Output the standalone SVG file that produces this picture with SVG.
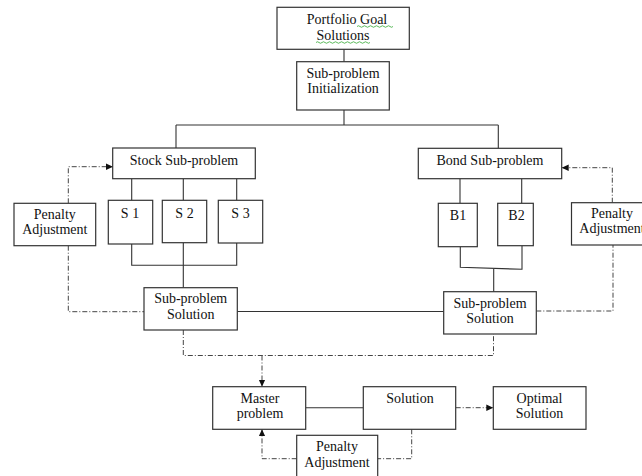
<svg xmlns="http://www.w3.org/2000/svg" width="642" height="476" viewBox="0 0 642 476">
<style>
.box{fill:#fff;stroke:#333;stroke-width:1.2}
.t{font-family:"Liberation Serif","Times New Roman",serif;font-size:14px;fill:#111;text-anchor:middle}
.ln{fill:none;stroke:#333;stroke-width:1.1}
.dd{fill:none;stroke:#444;stroke-width:1;stroke-dasharray:5 2 1 2}
.sq{fill:none;stroke:#3a3;stroke-width:0.8}
</style>
<defs>
<marker id="ah" markerWidth="8" markerHeight="8" refX="7" refY="4" orient="auto" markerUnits="userSpaceOnUse">
<path d="M0,0.8 L7,4 L0,7.2 Z" fill="#111"/>
</marker>
</defs>
<rect width="642" height="476" fill="#fff"/>
<g id="connectors">
<path class="ln" d="M344,49.3V61.7M344,110V125M176,125H498.3M176,125V148M498.3,125V148.3"/>
<path class="ln" d="M131.7,178.7V200.3M183.3,178.7V200.3M236.7,178.7V200.3"/>
<path class="ln" d="M131.7,244V265.3H236.7V243M183.3,242.7V287.7"/>
<path class="ln" d="M460,178.7V203.3M521.7,178.7V203.3"/>
<path class="ln" d="M460.3,246.7V267.3L522,269.3V245.7M493.7,268.3V291.7"/>
<path class="ln" d="M237.3,311.5H443.7M305.7,407.7H363.3"/>
<path class="dd" d="M68.3,245.7V311.7H144"/>
<path class="dd" d="M68.3,203.3V166.7H113" marker-end="url(#ah)"/>
<path class="dd" d="M536.3,311H613V245"/>
<path class="dd" d="M612.3,202.7V167.7H561.7" marker-end="url(#ah)"/>
<path class="dd" d="M183.3,330V355.5H493.5V334"/>
<path class="dd" d="M262,355.5V386.7" marker-end="url(#ah)"/>
<path class="dd" d="M455.7,407.7H493.3" marker-end="url(#ah)"/>
<path class="dd" d="M411.7,429.3V458.7H377.7"/>
<path class="dd" d="M296.7,458.7H262V429.3" marker-end="url(#ah)"/>
</g>
<g id="portfolio">
<rect class="box" x="277" y="7.3" width="132.3" height="42"/>
<text class="t" x="347" y="24">Portfolio Goal</text>
<text class="t" x="343" y="39.5">Solutions</text>
<path class="sq" d="M357,26.5q1.5,-1.5 3,0t3,0t3,0t3,0t3,0t3,0t3,0t3,0t3,0t3,0t3,0t3,0"/>
<path class="sq" d="M316,42.5q1.5,-1.5 3,0t3,0t3,0t3,0t3,0t3,0t3,0t3,0t3,0t3,0t3,0t3,0t3,0t3,0t3,0t3,0t3,0t3,0"/>
</g>
<g id="init">
<rect class="box" x="296.7" y="61.7" width="92.6" height="48.3"/>
<text class="t" x="343" y="78.3">Sub-problem</text>
<text class="t" x="343" y="93.3">Initialization</text>
</g>
<g id="stock">
<rect class="box" x="112.7" y="148" width="142.6" height="30.7"/>
<text class="t" x="184" y="165">Stock Sub-problem</text>
</g>
<g id="s1">
<rect class="box" x="108.3" y="200.3" width="44.4" height="43.7"/>
<text class="t" x="130" y="217.7">S 1</text>
</g>
<g id="s2">
<rect class="box" x="162.3" y="200.3" width="44.4" height="42.4"/>
<text class="t" x="184.5" y="217.7">S 2</text>
</g>
<g id="s3">
<rect class="box" x="218.3" y="200.3" width="44.4" height="42.7"/>
<text class="t" x="240.5" y="217.7">S 3</text>
</g>
<g id="penalty-left">
<rect class="box" x="14" y="203.3" width="81.7" height="42.4"/>
<text class="t" x="54.8" y="219.3">Penalty</text>
<text class="t" x="54.8" y="234.3">Adjustment</text>
</g>
<g id="bond">
<rect class="box" x="418.3" y="148.3" width="143.4" height="30.4"/>
<text class="t" x="490" y="164.5">Bond Sub-problem</text>
</g>
<g id="b1">
<rect class="box" x="438.3" y="203.3" width="39" height="43.4"/>
<text class="t" x="458" y="220">B1</text>
</g>
<g id="b2">
<rect class="box" x="497.7" y="203.3" width="35.6" height="42.4"/>
<text class="t" x="516.5" y="220">B2</text>
</g>
<g id="penalty-right">
<rect class="box" x="571.5" y="202.7" width="82" height="42.3"/>
<text class="t" x="612" y="218.3">Penalty</text>
<text class="t" x="612" y="233.3">Adjustment</text>
</g>
<g id="solution-left">
<rect class="box" x="144" y="287.7" width="93.3" height="42.3"/>
<text class="t" x="190.7" y="303.3">Sub-problem</text>
<text class="t" x="190.7" y="319.3">Solution</text>
</g>
<g id="solution-right">
<rect class="box" x="443.7" y="291.7" width="92.6" height="42.3"/>
<text class="t" x="490" y="307.7">Sub-problem</text>
<text class="t" x="490" y="322.7">Solution</text>
</g>
<g id="master">
<rect class="box" x="212.7" y="386.7" width="93" height="42.6"/>
<text class="t" x="260" y="402.7">Master</text>
<text class="t" x="260" y="417.7">problem</text>
</g>
<g id="solution">
<rect class="box" x="363.3" y="386.7" width="92.4" height="42.6"/>
<text class="t" x="410" y="402.7">Solution</text>
</g>
<g id="optimal">
<rect class="box" x="493.3" y="386.7" width="92.7" height="42.6"/>
<text class="t" x="539.5" y="403">Optimal</text>
<text class="t" x="539.5" y="418.3">Solution</text>
</g>
<g id="penalty-bottom">
<rect class="box" x="296.7" y="435.3" width="81" height="50"/>
<text class="t" x="337" y="451">Penalty</text>
<text class="t" x="337" y="466.7">Adjustment</text>
</g>
</svg>
